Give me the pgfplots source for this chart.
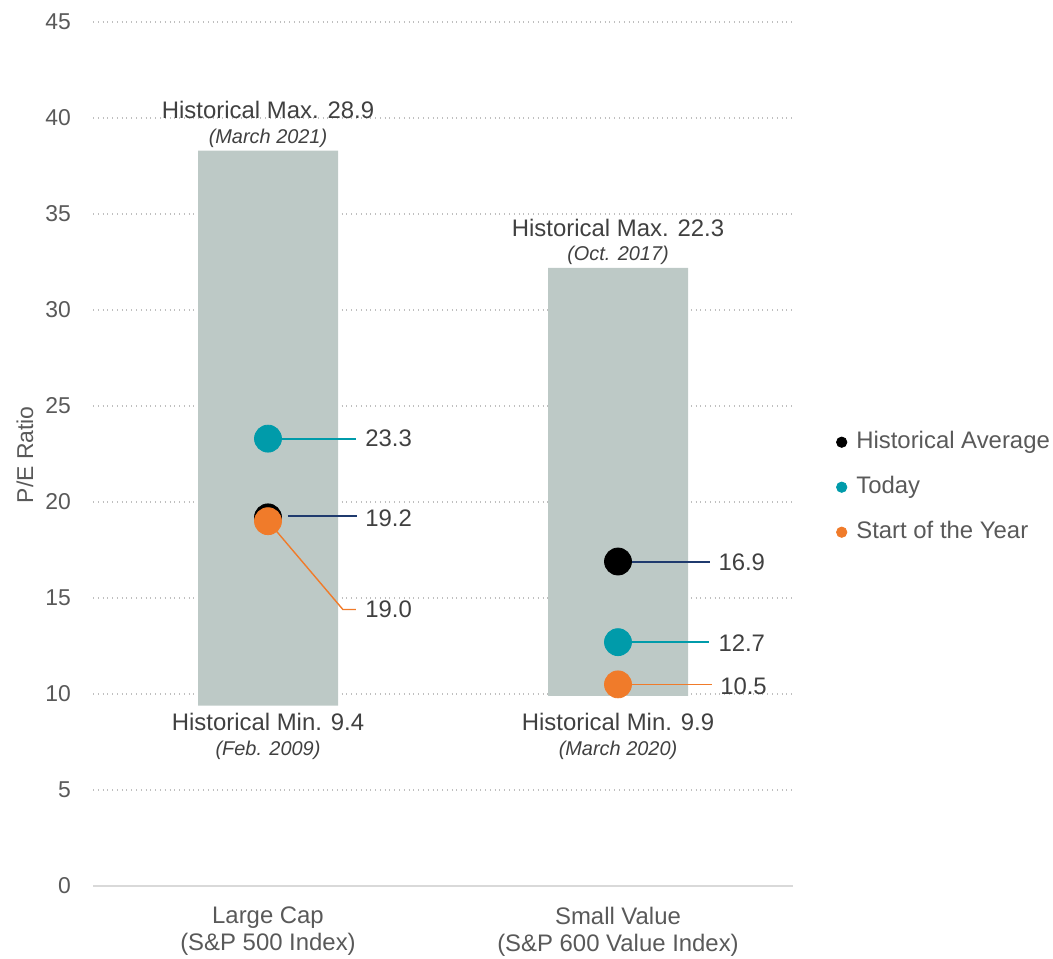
\documentclass[border=0pt]{standalone}
\usepackage{pgfplots}
\pgfplotsset{compat=1.18}
\usepackage{fontspec}
\setmainfont{Liberation Sans}
\definecolor{barc}{HTML}{BDC9C6}
\definecolor{tealc}{HTML}{009BAA}
\definecolor{orangec}{HTML}{F07B2A}
\definecolor{navyc}{HTML}{1F3A6E}
\definecolor{txtc}{HTML}{404040}
\definecolor{tickc}{HTML}{595959}
\definecolor{gridc}{HTML}{BFBFBF}
\definecolor{axisc}{HTML}{D9D9D9}
\begin{document}
\begin{tikzpicture}
\path[use as bounding box] (-46.5bp,-36.5bp) rectangle (480bp,443bp);
\pgfplotsset{
  common/.style={scale only axis, width=350bp, height=432bp,
    xmin=-0.5, xmax=1.5, ymin=0, ymax=45, clip=false}
}
% bars: invisible base + visible range (stacked)
\begin{axis}[common, ybar stacked, bar width=70bp,
  axis x line*=bottom, axis y line*=left,
  x axis line style={axisc, line width=1bp, -},
  y axis line style={draw=none},
  ytick={0,5,...,45}, ymajorgrids,
  grid style={gridc, dotted, line width=0.6bp},
  major tick length=0pt,
  /pgf/number format/assume math mode=true,
  xtick={0,1},
  xticklabels={{Large Cap\\(S\&P 500 Index)},{Small Value\\(S\&P 600 Value Index)}},
  xticklabel style={align=center, font=\fontsize{12}{13.5}\selectfont, text=tickc, yshift=-7bp},
  yticklabel style={font=\fontsize{11.5}{13}\selectfont, text=tickc, xshift=-7.5bp},
  ylabel={P/E Ratio},
  ylabel style={font=\fontsize{11.5}{13}\selectfont, text=tickc, at={(rel axis cs:-0.0971,0.499)}, anchor=center},
]
\addplot[draw=none, fill=none] coordinates {(0,9.4) (1,9.9)};
\addplot[draw=none, fill=barc] coordinates {(0,28.9) (1,22.3)};
\end{axis}
% points, labels, legend
\begin{axis}[common, hide axis,
  legend style={at={(rel axis cs:1.061,0.528)}, anchor=north west, draw=none, fill=none,
    inner sep=0pt, font=\fontsize{12}{14}\selectfont, text=tickc,
    row sep=10.5bp, column sep=4.5bp,
    nodes={inner sep=0pt, text height=9bp, text depth=3bp}},
  legend cell align=left,
]
\addplot[only marks, mark=*, mark size=6.75bp, color=black,
  legend image code/.code={\fill[black] (0bp,0bp) circle (2.6bp);}]
  coordinates {(0,19.2) (1,16.9)};
\addlegendentry{Historical Average}
\addplot[only marks, mark=*, mark size=6.75bp, color=tealc,
  legend image code/.code={\fill[tealc] (0bp,0bp) circle (2.6bp);}]
  coordinates {(0,23.3) (1,12.7)};
\addlegendentry{Today}
\addplot[only marks, mark=*, mark size=6.75bp, color=orangec,
  legend image code/.code={\fill[orangec] (0bp,0bp) circle (2.6bp);}]
  coordinates {(0,19.0) (1,10.5)};
\addlegendentry{Start of the Year}
% leader lines
\draw[tealc, line width=0.9bp] (axis cs:0,23.3) -- (axis cs:0.251,23.3);
\draw[navyc, line width=0.6bp] (axis cs:0.057,19.27) -- (axis cs:0.254,19.27);
\draw[orangec, line width=0.7bp] (axis cs:0,19.0) -- (axis cs:0.214,14.4) -- (axis cs:0.251,14.4);
\draw[navyc, line width=0.6bp] (axis cs:1.014,16.88) -- (axis cs:1.263,16.88);
\draw[tealc, line width=0.9bp] (axis cs:1.0,12.7) -- (axis cs:1.26,12.7);
\draw[orangec, line width=0.7bp] (axis cs:1.0,10.5) -- (axis cs:1.269,10.5);
% value labels
\begin{scope}[every node/.style={anchor=west, text=txtc, font=\fontsize{12}{14}\selectfont, inner sep=0pt}]
\node at (axis cs:0.277,23.3) {23.3};
\node at (axis cs:0.277,19.15) {19.2};
\node at (axis cs:0.277,14.4) {19.0};
\node at (axis cs:1.286,16.85) {16.9};
\node at (axis cs:1.286,12.66) {12.7};
\node at (axis cs:1.291,10.42) {10.5};
\end{scope}
% range labels
\begin{scope}[every node/.style={anchor=center, text=txtc, inner sep=0pt}]
\node[font=\fontsize{12}{14}\selectfont] at (axis cs:0,40.42) {Historical Max. 28.9};
\node[font=\fontsize{10}{12}\selectfont\itshape] at (axis cs:0,38.92) {(March 2021)};
\node[font=\fontsize{12}{14}\selectfont] at (axis cs:0,8.54) {Historical Min. 9.4};
\node[font=\fontsize{10}{12}\selectfont\itshape] at (axis cs:0,7.08) {(Feb. 2009)};
\node[font=\fontsize{12}{14}\selectfont] at (axis cs:1,34.27) {Historical Max. 22.3};
\node[font=\fontsize{10}{12}\selectfont\itshape] at (axis cs:1,32.85) {(Oct. 2017)};
\node[font=\fontsize{12}{14}\selectfont] at (axis cs:1,8.54) {Historical Min. 9.9};
\node[font=\fontsize{10}{12}\selectfont\itshape] at (axis cs:1,7.08) {(March 2020)};
\end{scope}
\end{axis}
\end{tikzpicture}
\end{document}
